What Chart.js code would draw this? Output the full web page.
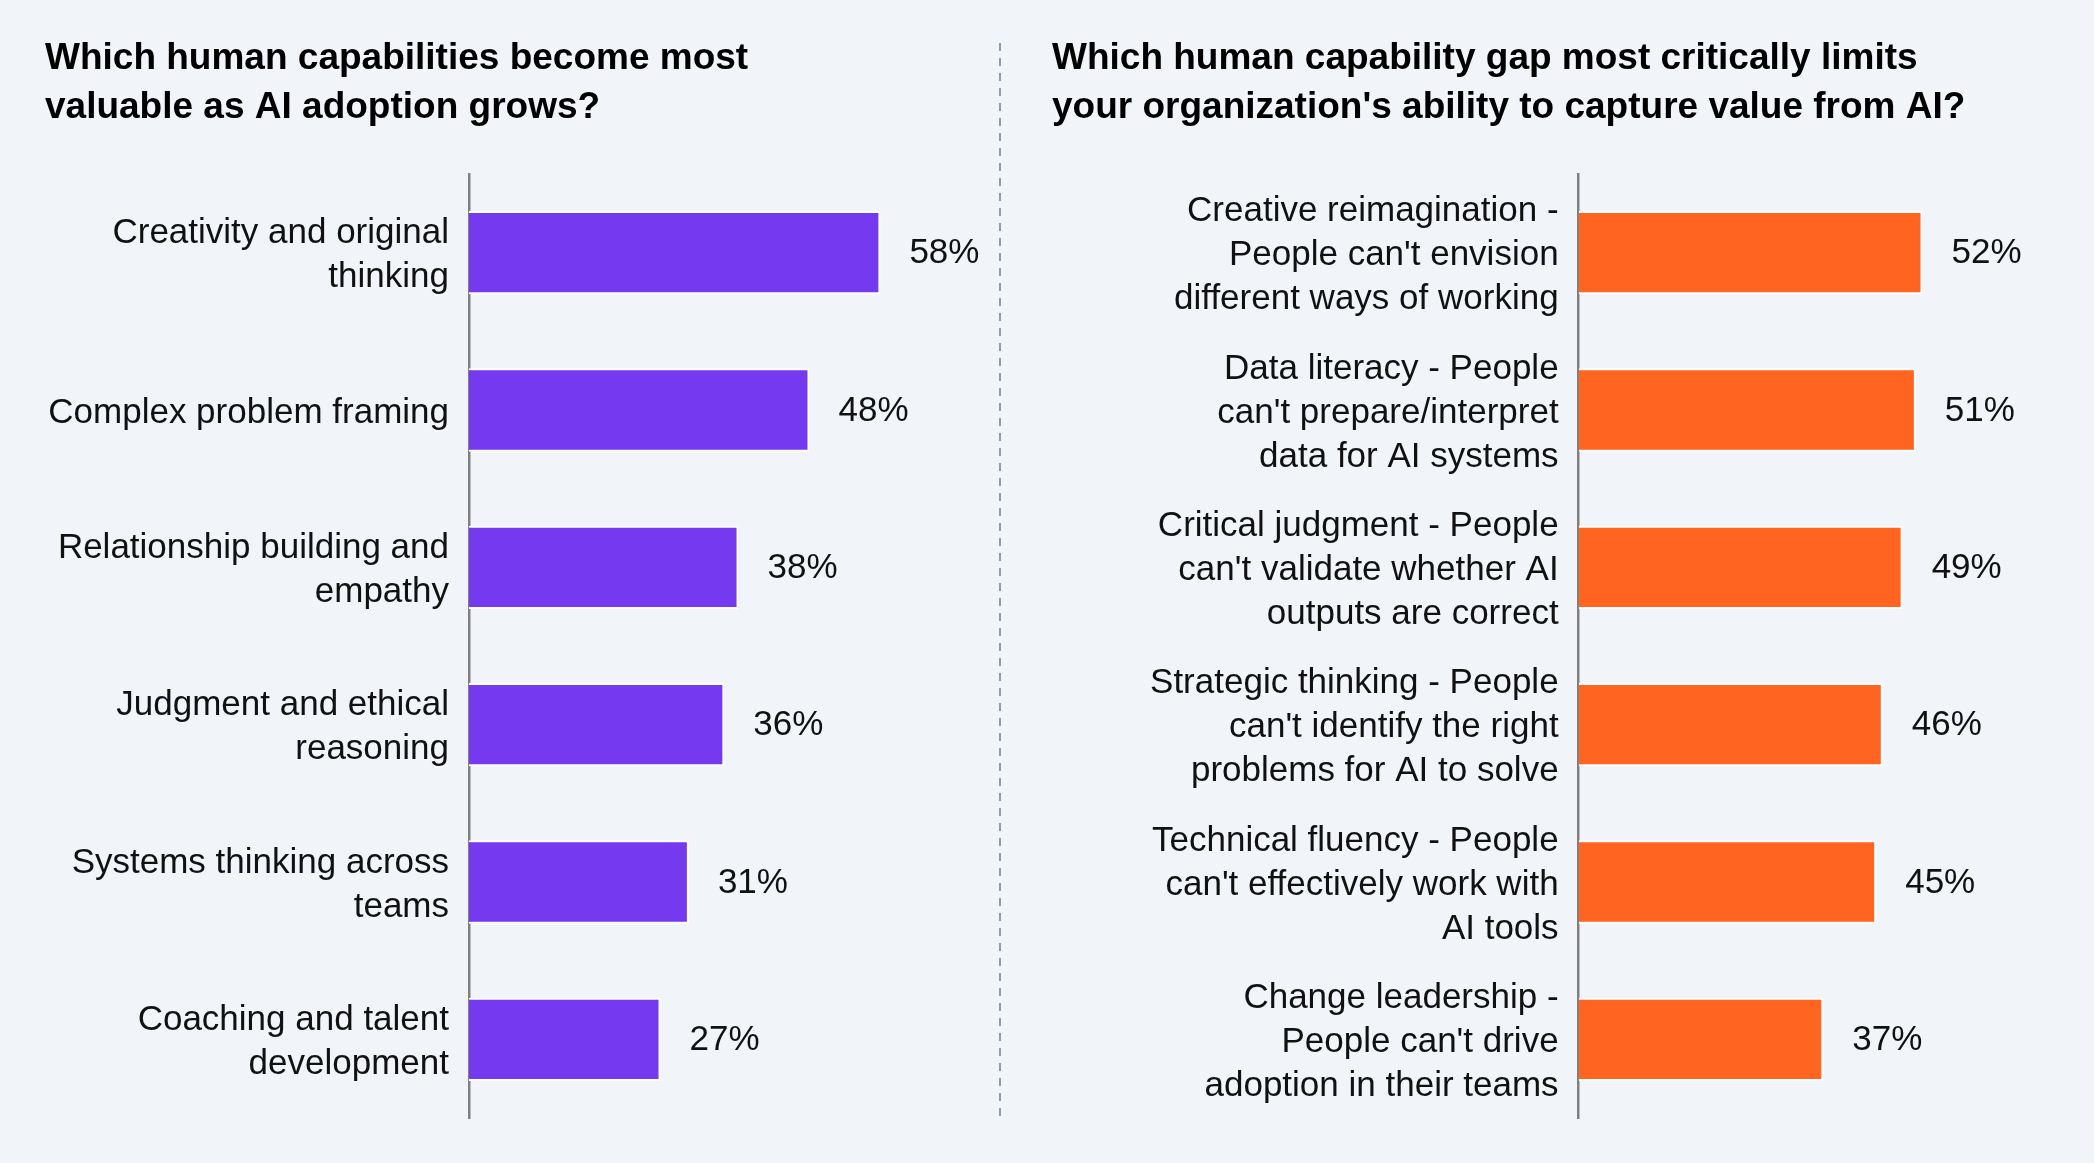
<!DOCTYPE html>
<html>
<head>
<meta charset="utf-8">
<script src="https://cdn.jsdelivr.net/npm/chart.js@4.4.0/dist/chart.umd.min.js"></script>
<style>
  html, body { margin: 0; padding: 0; background: #F1F5F9; }
  body { width: 2094px; height: 1163px; position: relative; overflow: hidden; }
  #leftWrap { position: absolute; left: 0; top: 0; }
  #rightWrap { position: absolute; left: 1000px; top: 0; }
  #divider { position: absolute; left: 998px; top: 0; }
</style>
</head>
<body>
<div id="leftWrap"><canvas id="leftChart" width="1000" height="1163"></canvas></div>
<svg id="divider" width="4" height="1163"><line x1="2" y1="43" x2="2" y2="1118" stroke="#8D9CB0" stroke-width="2" stroke-dasharray="8 7"/></svg>
<div id="rightWrap"><canvas id="rightChart" width="1094" height="1163"></canvas></div>
<script>
const leftTitle = ['Which human capabilities become most', 'valuable as AI adoption grows?'];
const leftLabels = [
    ['Creativity and original', 'thinking'],
    'Complex problem framing',
    ['Relationship building and', 'empathy'],
    ['Judgment and ethical', 'reasoning'],
    ['Systems thinking across', 'teams'],
    ['Coaching and talent', 'development']
];
const leftValues = [58, 48, 38, 36, 31, 27];

const rightTitle = ['Which human capability gap most critically limits', "your organization's ability to capture value from AI?"];
const rightLabels = [
    ['Creative reimagination -', "People can't envision", 'different ways of working'],
    ['Data literacy - People', "can't prepare/interpret", 'data for AI systems'],
    ['Critical judgment - People', "can't validate whether AI", 'outputs are correct'],
    ['Strategic thinking - People', "can't identify the right", 'problems for AI to solve'],
    ['Technical fluency - People', "can't effectively work with", 'AI tools'],
    ['Change leadership -', "People can't drive", 'adoption in their teams']
];
const rightValues = [52, 51, 49, 46, 45, 37];

const FONT = '"Liberation Sans", Arial, Helvetica, sans-serif';

// draws the "58%" labels to the right of each bar
const valueLabels = {
    id: 'valueLabels',
    afterDatasetsDraw(chart) {
        const ctx = chart.ctx;
        const meta = chart.getDatasetMeta(0);
        ctx.save();
        ctx.font = '35px ' + FONT;
        ctx.fillStyle = '#111111';
        ctx.textAlign = 'left';
        ctx.textBaseline = 'middle';
        meta.data.forEach((bar, i) => {
            ctx.fillText(chart.data.datasets[0].data[i] + '%', bar.x + 29, bar.y + 1);
        });
        ctx.restore();
    }
};

function makeChart(id, title, labels, values, color, pad, axisWidth) {
    return new Chart(document.getElementById(id), {
        type: 'bar',
        data: {
            labels: labels,
            datasets: [{
                data: values,
                backgroundColor: color,
                borderColor: '#ffffff',
                borderWidth: 2,
                borderSkipped: 'start',
                barPercentage: 1,
                categoryPercentage: 0.53
            }]
        },
        plugins: [valueLabels],
        options: {
            indexAxis: 'y',
            responsive: false,
            animation: false,
            layout: { padding: pad },
            scales: {
                x: { display: false, min: 0, max: 70 },
                y: {
                    grid: { display: false, drawTicks: false },
                    border: { display: true, color: '#808080', width: 2.5 },
                    ticks: {
                        autoSkip: false,
                        padding: 20,
                        labelOffset: 3,
                        color: '#111111',
                        font: { family: FONT, size: 35, lineHeight: 44 / 35 }
                    },
                    afterFit(scale) {
                        scale.width = axisWidth;
                        // multi-line labels fit inside their rows, no extra room needed
                        scale.paddingTop = 0;
                        scale.paddingBottom = 0;
                    }
                }
            },
            plugins: {
                legend: { display: false },
                tooltip: { enabled: false },
                title: {
                    display: true,
                    text: title,
                    align: 'start',
                    color: '#000000',
                    font: { family: FONT, size: 37, weight: 'bold', lineHeight: 49 / 37 },
                    padding: { top: 34, bottom: 42 }
                }
            }
        }
    });
}

makeChart('leftChart', leftTitle, leftLabels, leftValues, '#7539F0',
    { left: 45, right: 34.5, top: 0, bottom: 45 }, 424);
makeChart('rightChart', rightTitle, rightLabels, rightValues, '#FF6421',
    { left: 52, right: 52.5, top: 0, bottom: 45 }, 526.6);
</script>
</body>
</html>
